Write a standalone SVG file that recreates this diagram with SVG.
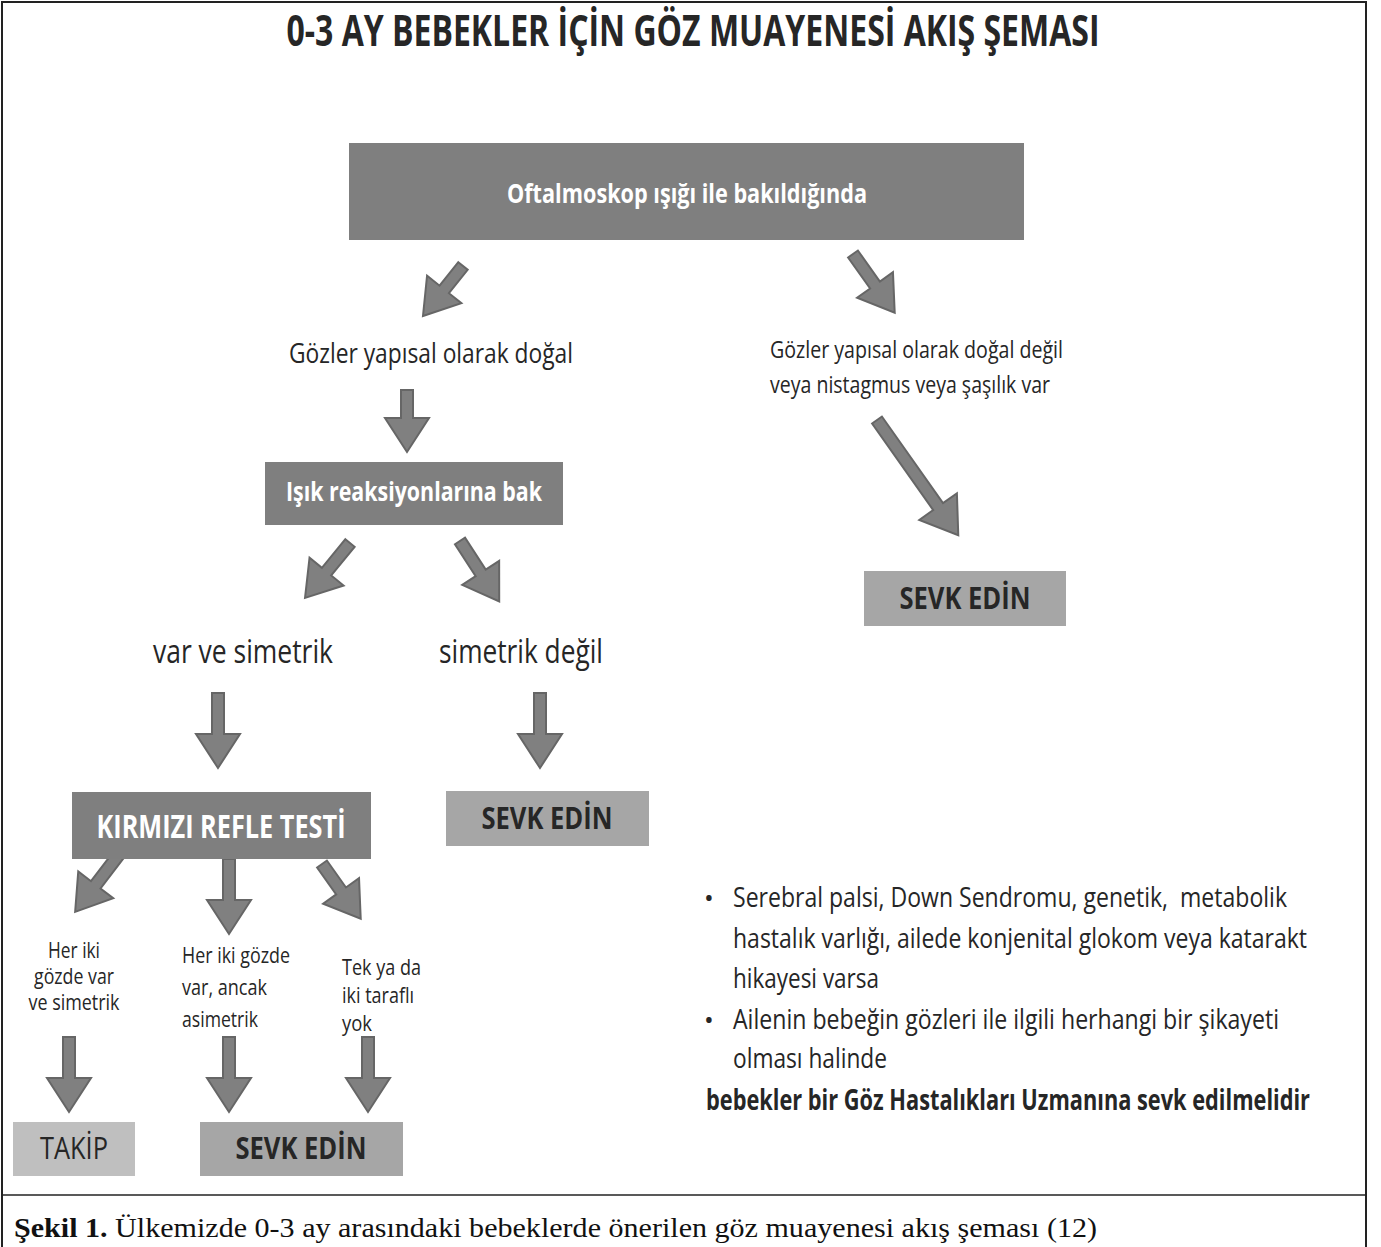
<svg xmlns="http://www.w3.org/2000/svg" xmlns:xlink="http://www.w3.org/1999/xlink" width="1381" height="1247" viewBox="0 0 1381 1247">
<style>
.frame{fill:#fff;stroke:#222;stroke-width:2}
.dark{fill:#7f7f7f}
.mid{fill:#a6a6a6}
.light{fill:#bfbfbf}
.arr{fill:#808080;stroke:#666;stroke-width:2;stroke-linejoin:miter}
text{font-family:"Open Sans","Noto Sans","DejaVu Sans",sans-serif;fill:#262626}
.w{fill:#fff;font-weight:bold}
.b{font-weight:bold}
.cap{font-family:"Liberation Serif","Times New Roman",serif;fill:#111}
</style>
<defs>
<polygon id="a62" points="-6,0 6,0 6,28 22,28 0,62 -22,28 -6,28"/>
<polygon id="a75" points="-6,0 6,0 6,41 22,41 0,75 -22,41 -6,41"/>
</defs>
<rect class="frame" x="2" y="2" width="1364" height="1250"/>
<line x1="2" y1="1195" x2="1366" y2="1195" stroke="#222" stroke-width="1.5"/>
<text id="title" class="b" x="693" y="46" text-anchor="middle" font-size="43" textLength="813" lengthAdjust="spacingAndGlyphs" fill="#1a1a1a">0-3 AY BEBEKLER İÇİN GÖZ MUAYENESİ AKIŞ ŞEMASI</text>

<g id="connectors">
<use href="#a62" class="arr" transform="translate(407,390)"/>
<use href="#a75" class="arr" transform="translate(218,693)"/>
<use href="#a75" class="arr" transform="translate(540,693)"/>
<use href="#a75" class="arr" transform="translate(229,859)"/>
<use href="#a75" class="arr" transform="translate(69,1037)"/>
<use href="#a75" class="arr" transform="translate(229,1037)"/>
<use href="#a75" class="arr" transform="translate(368,1037)"/>
<polygon class="arr" points="-6,0 6,0 6,30 22,30 0,64 -22,30 -6,30" transform="translate(463,266) rotate(38.7)"/>
<polygon class="arr" points="-6,0 6,0 6,38 22,38 0,72 -22,38 -6,38" transform="translate(853,254) rotate(-35.4)"/>
<polygon class="arr" points="-6,0 6,0 6,37 22,37 0,71 -22,37 -6,37" transform="translate(350,543) rotate(39.3)"/>
<polygon class="arr" points="-6,0 6,0 6,38 22,38 0,72 -22,38 -6,38" transform="translate(460,541) rotate(-33)"/>
<polygon class="arr" points="-6,0 6,0 6,106 23,106 0,141 -23,106 -6,106" transform="translate(877,420) rotate(-35.2)"/>
<polygon class="arr" points="-6,0 6,0 6,40 22,40 0,74 -22,40 -6,40" transform="translate(120,853) rotate(37.3)"/>
<polygon class="arr" points="-6,0 6,0 6,33 22,33 0,67 -22,33 -6,33" transform="translate(322,864) rotate(-35.3)"/>
</g>

<g id="n-oftalmoskop">
<rect class="dark" x="349" y="143" width="675" height="97"/>
<text class="w" x="687" y="203" text-anchor="middle" font-size="27" textLength="360" lengthAdjust="spacingAndGlyphs">Oftalmoskop ışığı ile bakıldığında</text>
</g>
<g id="n-dogal">
<text x="431" y="363" text-anchor="middle" font-size="28" textLength="284" lengthAdjust="spacingAndGlyphs">Gözler yapısal olarak doğal</text>
</g>
<g id="n-dogal-degil">
<text x="770" y="358" font-size="24" textLength="293" lengthAdjust="spacingAndGlyphs">Gözler yapısal olarak doğal değil</text>
<text x="770" y="393" font-size="24" textLength="280" lengthAdjust="spacingAndGlyphs">veya nistagmus veya şaşılık var</text>
</g>
<g id="n-isik">
<rect class="dark" x="265" y="462" width="298" height="63"/>
<text class="w" x="414" y="501" text-anchor="middle" font-size="27" textLength="256" lengthAdjust="spacingAndGlyphs">Işık reaksiyonlarına bak</text>
</g>
<g id="n-sevk1">
<rect class="mid" x="864" y="571" width="202" height="55"/>
<text class="b" x="965" y="609" text-anchor="middle" font-size="31" textLength="131" lengthAdjust="spacingAndGlyphs">SEVK EDİN</text>
</g>
<g id="n-var-simetrik">
<text x="243" y="663" text-anchor="middle" font-size="32" textLength="180" lengthAdjust="spacingAndGlyphs">var ve simetrik</text>
</g>
<g id="n-simetrik-degil">
<text x="521" y="663" text-anchor="middle" font-size="32" textLength="164" lengthAdjust="spacingAndGlyphs">simetrik değil</text>
</g>
<g id="n-kirmizi">
<rect class="dark" x="72" y="792" width="299" height="67"/>
<text class="w" x="221" y="838" text-anchor="middle" font-size="32" textLength="249" lengthAdjust="spacingAndGlyphs">KIRMIZI REFLE TESTİ</text>
</g>
<g id="n-sevk2">
<rect class="mid" x="446" y="791" width="203" height="55"/>
<text class="b" x="547" y="829" text-anchor="middle" font-size="31" textLength="131" lengthAdjust="spacingAndGlyphs">SEVK EDİN</text>
</g>
<g id="n-her-iki-simetrik">
<text x="74" y="958" text-anchor="middle" font-size="21" textLength="52" lengthAdjust="spacingAndGlyphs">Her iki</text>
<text x="74" y="984" text-anchor="middle" font-size="21" textLength="80" lengthAdjust="spacingAndGlyphs">gözde var</text>
<text x="74" y="1010" text-anchor="middle" font-size="21" textLength="91" lengthAdjust="spacingAndGlyphs">ve simetrik</text>
</g>
<g id="n-asimetrik">
<text x="182" y="963" font-size="22" textLength="108" lengthAdjust="spacingAndGlyphs">Her iki gözde</text>
<text x="182" y="995" font-size="22" textLength="85" lengthAdjust="spacingAndGlyphs">var, ancak</text>
<text x="182" y="1027" font-size="22" textLength="76" lengthAdjust="spacingAndGlyphs">asimetrik</text>
</g>
<g id="n-yok">
<text x="342" y="975" font-size="21" textLength="79" lengthAdjust="spacingAndGlyphs">Tek ya da</text>
<text x="342" y="1003" font-size="21" textLength="72" lengthAdjust="spacingAndGlyphs">iki taraflı</text>
<text x="342" y="1031" font-size="21" textLength="30" lengthAdjust="spacingAndGlyphs">yok</text>
</g>
<g id="n-takip">
<rect class="light" x="13" y="1122" width="122" height="54"/>
<text x="74" y="1159" text-anchor="middle" font-size="31" textLength="68" lengthAdjust="spacingAndGlyphs">TAKİP</text>
</g>
<g id="n-sevk3">
<rect class="mid" x="200" y="1122" width="203" height="54"/>
<text class="b" x="301" y="1159" text-anchor="middle" font-size="31" textLength="131" lengthAdjust="spacingAndGlyphs">SEVK EDİN</text>
</g>
<g id="n-notes">
<text x="704" y="907" font-size="26">•</text>
<text x="733" y="907" font-size="28" textLength="554" lengthAdjust="spacingAndGlyphs">Serebral palsi, Down Sendromu, genetik,&#160; metabolik</text>
<text x="733" y="948" font-size="28" textLength="574" lengthAdjust="spacingAndGlyphs">hastalık varlığı, ailede konjenital glokom veya katarakt</text>
<text x="733" y="988" font-size="28" textLength="146" lengthAdjust="spacingAndGlyphs">hikayesi varsa</text>
<text x="704" y="1029" font-size="26">•</text>
<text x="733" y="1029" font-size="28" textLength="546" lengthAdjust="spacingAndGlyphs">Ailenin bebeğin gözleri ile ilgili herhangi bir şikayeti</text>
<text x="733" y="1068" font-size="28" textLength="154" lengthAdjust="spacingAndGlyphs">olması halinde</text>
<text class="b" x="706" y="1110" font-size="28" textLength="604" lengthAdjust="spacingAndGlyphs">bebekler bir Göz Hastalıkları Uzmanına sevk edilmelidir</text>
</g>
<text class="cap" x="14" y="1237" font-size="27" textLength="1083" lengthAdjust="spacingAndGlyphs"><tspan font-weight="bold">Şekil 1.</tspan> Ülkemizde 0-3 ay arasındaki bebeklerde önerilen göz muayenesi akış şeması (12)</text>
</svg>
